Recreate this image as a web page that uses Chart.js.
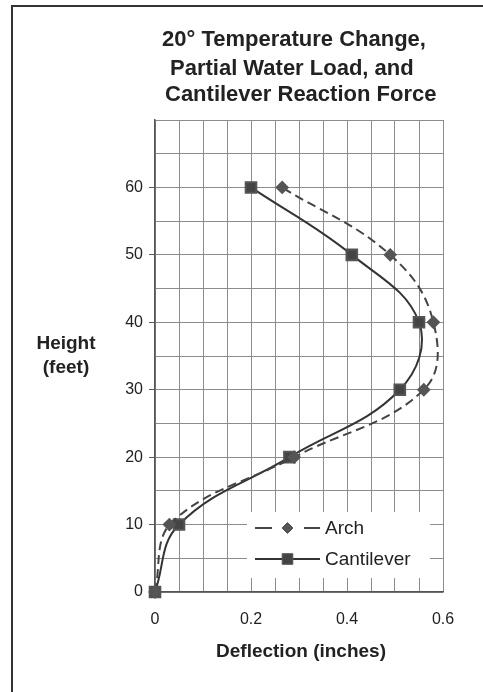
<!DOCTYPE html>
<html>
<head>
<meta charset="utf-8">
<script src="https://cdn.jsdelivr.net/npm/chart.js@4/dist/chart.umd.min.js"></script>
<style>
  html, body { margin: 0; padding: 0; background: #fff; }
  canvas { display: block; }
</style>
</head>
<body>
<canvas id="deflectionChart" width="483" height="692"></canvas>
<script>
// Heights along the wall (feet)
const heights = [0, 10, 20, 30, 40, 50, 60];
// Deflection (inches) for each support case
const archDeflection = [0, 0.03, 0.29, 0.56, 0.58, 0.49, 0.265];
const cantileverDeflection = [0, 0.05, 0.28, 0.51, 0.55, 0.41, 0.2];
const seriesNames = ['Arch', 'Cantilever'];
const xTickLabels = ['0', '0.2', '0.4', '0.6'];
const yTickLabels = ['0', '10', '20', '30', '40', '50', '60'];
const titleLines = ['20° Temperature Change,', 'Partial Water Load, and', 'Cantilever Reaction Force'];

const FONT = '"Liberation Sans", Arial, sans-serif';

function toPoints(xs) {
    return xs.map((x, i) => ({ x: x, y: heights[i] }));
}

function fmt(v) {
    return String(Math.round(v * 1000) / 1000);
}

// Frame, titles and axis captions
const decorations = {
    id: 'decorations',
    beforeDraw(chart) {
        const ctx = chart.ctx;
        ctx.save();
        ctx.fillStyle = '#fff';
        ctx.fillRect(0, 0, chart.width, chart.height);
        ctx.strokeStyle = '#333';
        ctx.lineWidth = 2;
        ctx.beginPath();
        ctx.moveTo(12, chart.height);
        ctx.lineTo(12, 6);
        ctx.lineTo(chart.width, 6);
        ctx.stroke();
        ctx.restore();
    },
    afterDraw(chart) {
        const ctx = chart.ctx;
        ctx.save();
        ctx.fillStyle = '#222';
        ctx.textBaseline = 'middle';
        ctx.textAlign = 'left';
        ctx.font = 'bold 22px ' + FONT;
        const titleX = [162, 170, 165];
        const titleY = [40, 69, 95];
        titleLines.forEach((t, i) => ctx.fillText(t, titleX[i], titleY[i]));

        ctx.textAlign = 'center';
        ctx.font = 'bold 19px ' + FONT;
        ctx.fillText('Height', 66, 344);
        ctx.fillText('(feet)', 66, 368);
        ctx.fillText('Deflection (inches)', 301, 652);
        ctx.restore();
    }
};

// Legend box sitting inside the plot, lower right
const insideLegend = {
    id: 'insideLegend',
    afterDatasetsDraw(chart) {
        const ctx = chart.ctx;
        const area = chart.chartArea;
        const right = area.right - 13;
        const bottom = area.bottom - 14;
        const left = right - 183;
        const top = bottom - 66;
        ctx.save();
        ctx.fillStyle = '#fff';
        ctx.fillRect(left, top, right - left, bottom - top);

        chart.data.datasets.forEach((ds, i) => {
            const y = top + 16 + i * 31;
            const x0 = left + 8;
            const x1 = left + 73;
            const mid = (x0 + x1) / 2;
            ctx.strokeStyle = ds.borderColor;
            ctx.lineWidth = ds.borderWidth;
            ctx.setLineDash([]);
            ctx.beginPath();
            if (ds.borderDash && ds.borderDash.length) {
                ctx.moveTo(x0, y); ctx.lineTo(x0 + 17, y);
                ctx.moveTo(x1 - 16, y); ctx.lineTo(x1, y);
            } else {
                ctx.moveTo(x0, y); ctx.lineTo(x1, y);
            }
            ctx.stroke();
            ctx.fillStyle = ds.pointBackgroundColor;
            ctx.strokeStyle = ds.pointBorderColor;
            ctx.lineWidth = 1;
            Chart.helpers.drawPoint(ctx, {
                pointStyle: ds.pointStyle,
                radius: ds.pointRadius,
                borderWidth: 1,
                rotation: 0
            }, mid, y);
            ctx.fillStyle = '#222';
            ctx.font = '19px ' + FONT;
            ctx.textAlign = 'left';
            ctx.textBaseline = 'middle';
            ctx.fillText(ds.label, x1 + 5, y + 1);
        });
        ctx.restore();
    }
};

function labelled(list, v) {
    return list.indexOf(fmt(v)) !== -1;
}

new Chart(document.getElementById('deflectionChart'), {
    type: 'scatter',
    data: {
        datasets: [{
            label: seriesNames[0],
            data: toPoints(archDeflection),
            showLine: true,
            tension: 0.4,
            borderColor: '#444',
            borderWidth: 2,
            borderDash: [9, 5],
            pointStyle: 'rectRot',
            pointRadius: 5.5,
            pointBackgroundColor: '#555',
            pointBorderColor: '#555',
            clip: false
        }, {
            label: seriesNames[1],
            data: toPoints(cantileverDeflection),
            showLine: true,
            tension: 0.4,
            borderColor: '#333',
            borderWidth: 2,
            pointStyle: 'rect',
            pointRadius: 7.5,
            pointBackgroundColor: '#444',
            pointBorderColor: '#555',
            clip: false
        }]
    },
    options: {
        responsive: false,
        animation: false,
        layout: { padding: { left: 0, right: 40, top: 120, bottom: 0 } },
        plugins: {
            legend: { display: false },
            title: { display: false },
            tooltip: { enabled: false }
        },
        scales: {
            x: {
                type: 'linear',
                min: 0,
                max: 0.6,
                afterFit(scale) { scale.height = 100; },
                ticks: {
                    stepSize: 0.05,
                    autoSkip: false,
                    maxRotation: 0,
                    padding: 10,
                    color: '#222',
                    font: { family: FONT, size: 16 },
                    callback: v => labelled(xTickLabels, v) ? fmt(v) : ''
                },
                grid: {
                    color: '#8c8c8c',
                    lineWidth: 1,
                    tickLength: 8,
                    tickColor: 'transparent'
                },
                border: { color: '#555', width: 1.5 }
            },
            y: {
                type: 'linear',
                min: 0,
                max: 70,
                afterFit(scale) { scale.width = 155; },
                ticks: {
                    stepSize: 5,
                    autoSkip: false,
                    padding: 6,
                    color: '#222',
                    font: { family: FONT, size: 16 },
                    callback: v => labelled(yTickLabels, v) ? fmt(v) : ''
                },
                grid: {
                    color: '#8c8c8c',
                    lineWidth: 1,
                    tickLength: 6,
                    tickColor: ctx => (ctx.tick && labelled(yTickLabels, ctx.tick.value)) ? '#555' : 'transparent'
                },
                border: { color: '#555', width: 1.5 }
            }
        }
    },
    plugins: [decorations, insideLegend]
});
</script>
</body>
</html>
